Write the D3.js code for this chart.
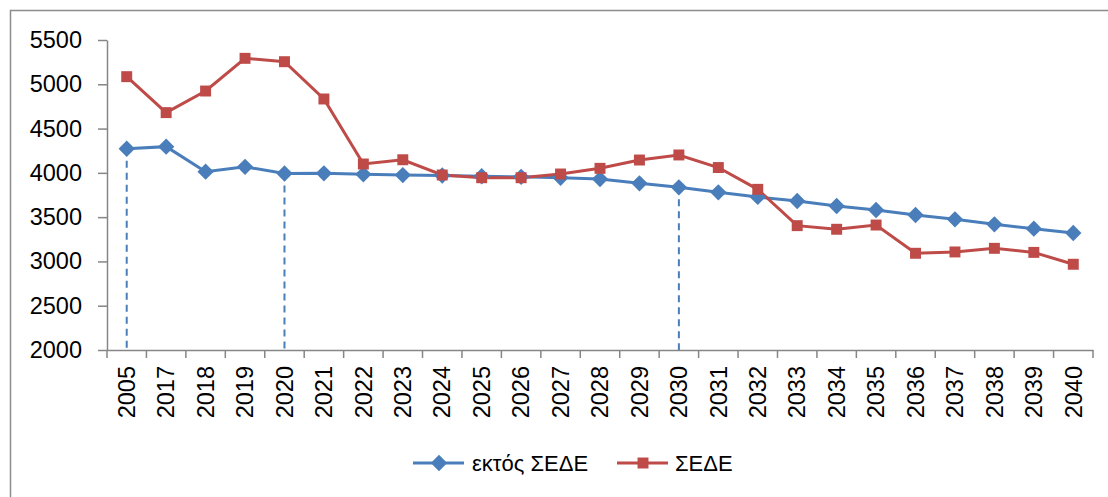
<!DOCTYPE html>
<meta charset="utf-8">
<style>
  body { margin: 0; background: #fff; }
  text { font-family: "Liberation Sans", Arial, sans-serif; fill: #000; }
</style>
<body>
<script src="https://d3js.org/d3.v7.min.js"></script>
<script>
  var years = ["2005", "2017", "2018", "2019", "2020", "2021", "2022", "2023", "2024", "2025",
    "2026", "2027", "2028", "2029", "2030", "2031", "2032", "2033", "2034", "2035",
    "2036", "2037", "2038", "2039", "2040"];

  // εκτός ΣΕΔΕ
  var nonEts = [4272, 4296, 4013, 4068, 3993, 3995, 3983, 3975, 3970, 3962,
    3955, 3945, 3930, 3882, 3837, 3780, 3728, 3682, 3626, 3581,
    3524, 3475, 3419, 3370, 3321];

  // ΣΕΔΕ
  var ets = [5086, 4680, 4924, 5293, 5255, 4834, 4100, 4148, 3976, 3945,
    3945, 3987, 4051, 4145, 4202, 4060, 3814, 3404, 3363, 3411,
    3092, 3107, 3148, 3102, 2968];

  var yTicks = [2000, 2500, 3000, 3500, 4000, 4500, 5000, 5500];
  var dropYears = ["2005", "2020", "2030"];
  var seriesNames = ["εκτός ΣΕΔΕ", "ΣΕΔΕ"];

  var blue = "#4A7EBB", red = "#BE4B48", grey = "#868686";
  var font = "'Liberation Sans', Arial, sans-serif";

  var svg = d3.select("body").append("svg")
    .attr("width", 1108)
    .attr("height", 497);

  // outer chart frame
  svg.append("rect")
    .attr("x", 10.5).attr("y", 10.5)
    .attr("width", 1110).attr("height", 500)
    .attr("fill", "none")
    .attr("stroke", "#8c8c8c")
    .attr("stroke-width", 1.5);

  var x = d3.scaleBand().domain(years).range([107, 1093]);
  var y = d3.scaleLinear().domain([2000, 5500]).range([350, 40]);

  var g = svg.append("g");

  // y axis
  var yAxis = g.append("g")
    .attr("transform", "translate(107,0)")
    .call(d3.axisLeft(y).tickValues(yTicks).tickFormat(d3.format("d"))
      .tickSize(9).tickPadding(16).tickSizeOuter(0));
  yAxis.select(".domain").attr("stroke", grey).attr("stroke-width", 1.5);
  yAxis.selectAll(".tick line").attr("stroke", grey).attr("stroke-width", 1.5);
  yAxis.selectAll(".tick text").style("font-size", "23.5px")
    .style("font-family", font).attr("fill", "#000");

  // x axis
  var xAxis = g.append("g")
    .attr("transform", "translate(0,350)")
    .call(d3.axisBottom(x).tickSize(0).tickSizeOuter(0));
  xAxis.select(".domain").attr("stroke", grey).attr("stroke-width", 1.5);
  xAxis.selectAll(".tick text")
    .style("font-size", "23.5px")
    .style("font-family", font)
    .attr("fill", "#000")
    .attr("transform", "rotate(-90)")
    .attr("text-anchor", "end")
    .attr("x", -16)
    .attr("y", 0)
    .attr("dy", "0.35em");

  // x tick marks at band boundaries
  var bounds = years.map(function (d) { return x(d); }).concat([x.range()[1]]);
  g.selectAll(".xtick")
    .data(bounds)
    .enter().append("line")
    .attr("x1", function (d) { return d; })
    .attr("x2", function (d) { return d; })
    .attr("y1", 350).attr("y2", 358)
    .attr("stroke", grey).attr("stroke-width", 1.5);

  var cx = function (d, i) { return x(years[i]) + x.bandwidth() / 2; };

  // dashed drop lines
  g.selectAll(".drop")
    .data(dropYears)
    .enter().append("line")
    .attr("x1", function (d) { return x(d) + x.bandwidth() / 2; })
    .attr("x2", function (d) { return x(d) + x.bandwidth() / 2; })
    .attr("y1", function (d) { return y(nonEts[years.indexOf(d)]); })
    .attr("y2", 350)
    .attr("stroke", blue)
    .attr("stroke-width", 2)
    .attr("stroke-dasharray", "7,5");

  var line = d3.line()
    .x(function (d, i) { return cx(d, i); })
    .y(function (d) { return y(d); });

  g.append("path").datum(nonEts)
    .attr("d", line).attr("fill", "none")
    .attr("stroke", blue).attr("stroke-width", 3);

  g.append("path").datum(ets)
    .attr("d", line).attr("fill", "none")
    .attr("stroke", red).attr("stroke-width", 3);

  var diamond = d3.symbol().type(d3.symbolDiamond2).size(170);
  var square = d3.symbol().type(d3.symbolSquare).size(120);

  g.selectAll(".m1").data(nonEts).enter().append("path")
    .attr("d", diamond)
    .attr("transform", function (d, i) { return "translate(" + cx(d, i) + "," + y(d) + ")"; })
    .attr("fill", blue);

  g.selectAll(".m2").data(ets).enter().append("path")
    .attr("d", square)
    .attr("transform", function (d, i) { return "translate(" + cx(d, i) + "," + y(d) + ")"; })
    .attr("fill", red);

  // legend
  var legend = svg.append("g").attr("transform", "translate(0,463)");
  var items = [
    { name: seriesNames[0], color: blue, sym: diamond, x0: 413, tx: 472 },
    { name: seriesNames[1], color: red, sym: square, x0: 617, tx: 675 }
  ];
  items.forEach(function (it) {
    legend.append("line")
      .attr("x1", it.x0).attr("x2", it.x0 + 51)
      .attr("y1", 0).attr("y2", 0)
      .attr("stroke", it.color).attr("stroke-width", 3);
    legend.append("path")
      .attr("d", it.sym)
      .attr("transform", "translate(" + (it.x0 + 26) + ",0)")
      .attr("fill", it.color);
    legend.append("text")
      .attr("x", it.tx).attr("y", 0).attr("dy", "0.35em")
      .style("font-size", "22px")
      .text(it.name);
  });
</script>
</body>
